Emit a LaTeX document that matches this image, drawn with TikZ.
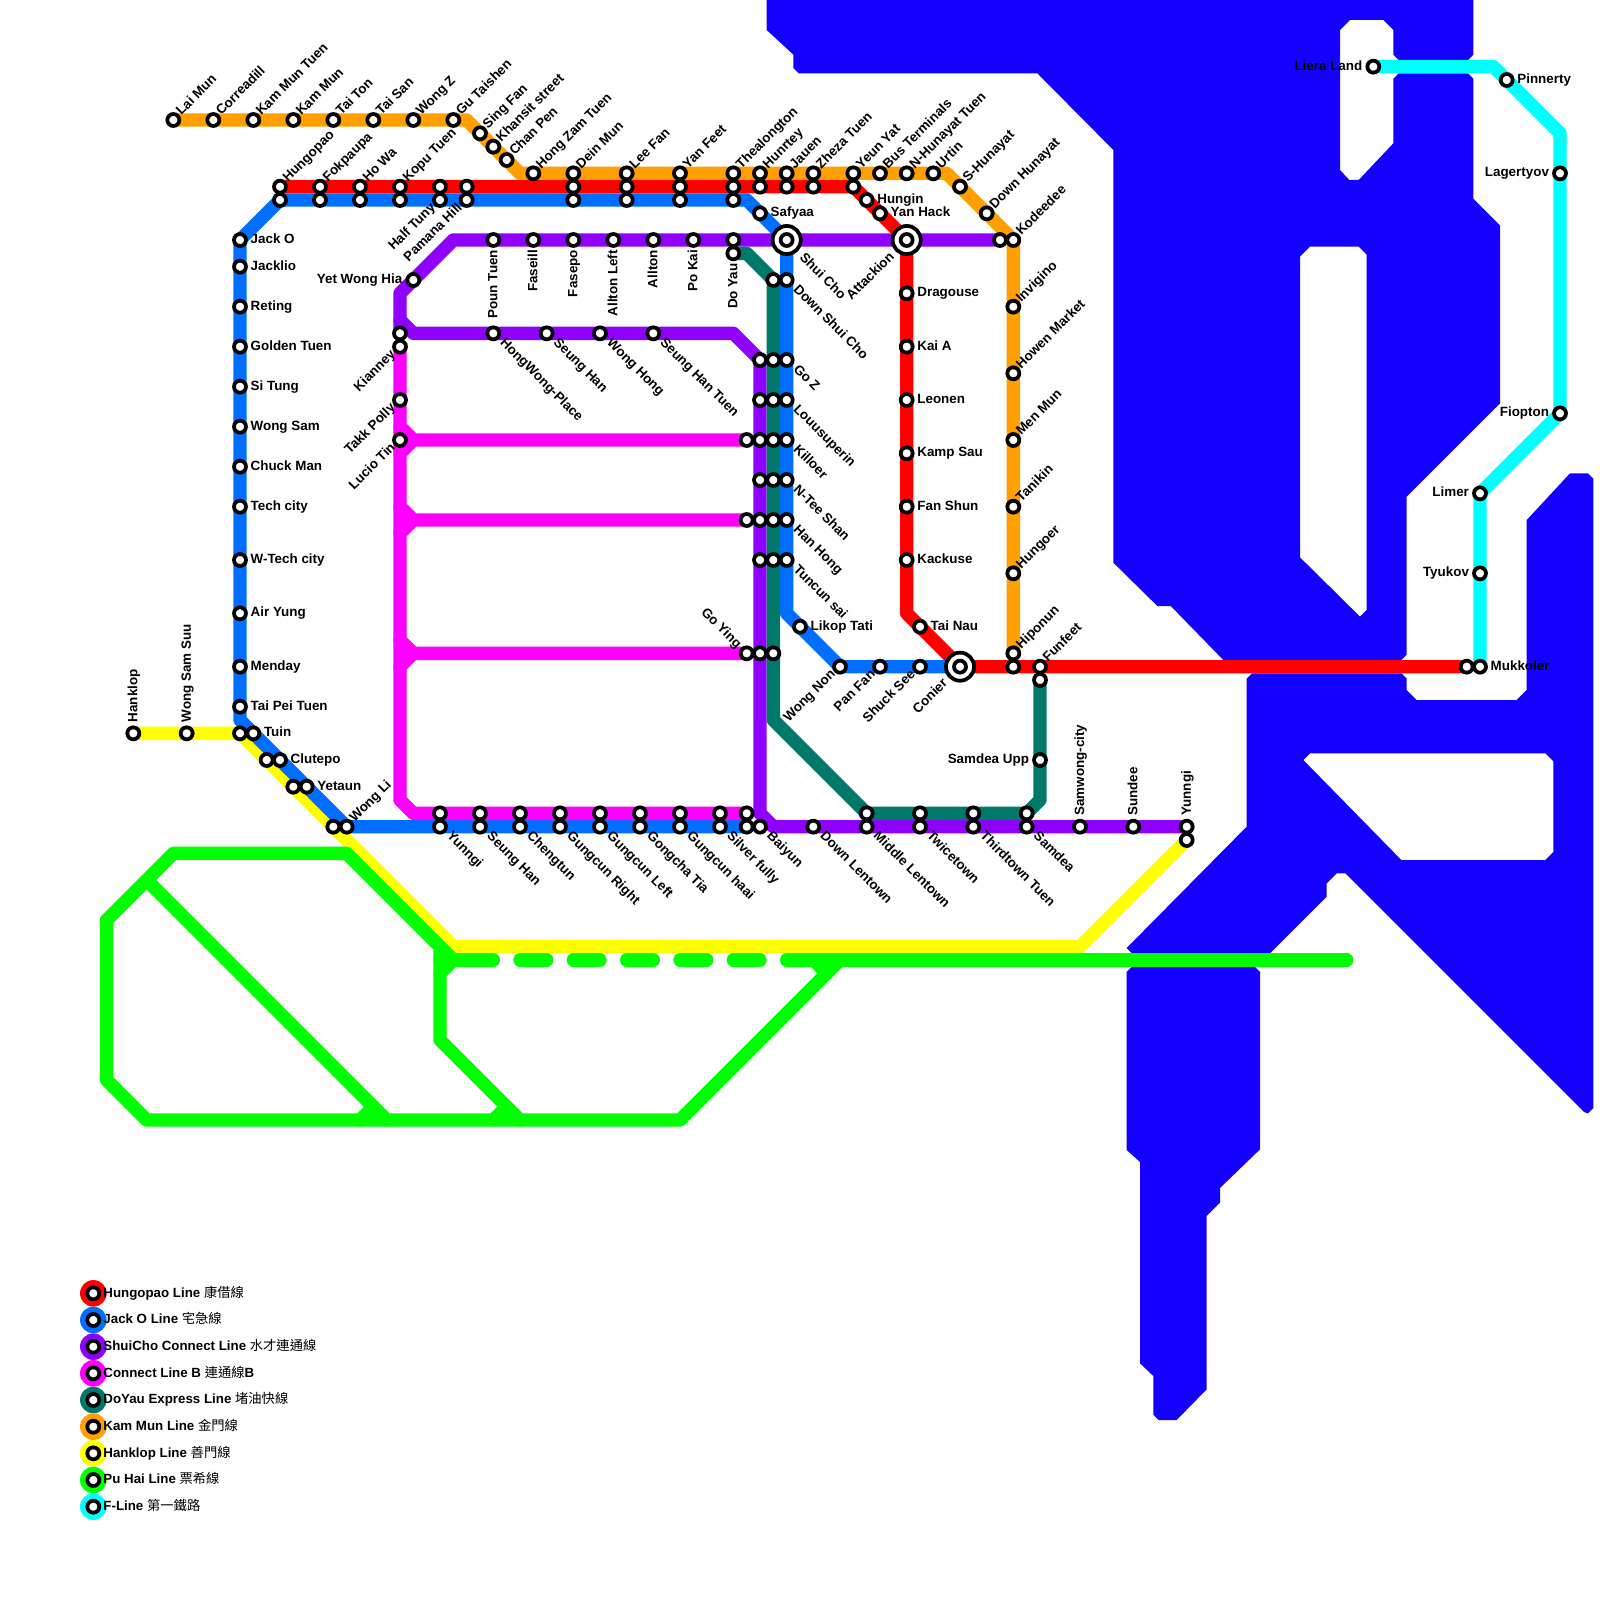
\documentclass[tikz,border=0pt]{standalone}
\usepackage{fontspec}
\setmainfont{Liberation Sans}
\newfontfamily\cjk{Noto Sans CJK TC}
\pgfdeclarelayer{water}
\pgfdeclarelayer{lines}
\pgfsetlayers{water,lines,main}
\definecolor{cRed}{RGB}{255,0,0}
\definecolor{cBlue}{RGB}{0,111,255}
\definecolor{cPurple}{RGB}{143,0,255}
\definecolor{cMag}{RGB}{255,0,255}
\definecolor{cTeal}{RGB}{0,121,107}
\definecolor{cOrange}{RGB}{255,160,0}
\definecolor{cYellow}{RGB}{255,255,0}
\definecolor{cGreen}{RGB}{0,255,0}
\definecolor{cCyan}{RGB}{0,255,255}
\definecolor{cWater}{RGB}{20,0,255}
\tikzset{
  x=0.25cm,y=-0.25cm,
  stn/.style={circle,draw=black,fill=white,line width=2pt,minimum size=6.4pt,inner sep=0pt},
  hub/.style={circle,draw=black,fill=white,line width=2pt,minimum size=15pt,inner sep=0pt},
  metro/.style={line width=0.25cm,line cap=round,line join=round},
  lab/.style={inner sep=0pt,font=\fontsize{7.15}{9}\selectfont\bfseries},
  lNE/.style={lab,anchor=base west,xshift=4.2pt,yshift=2pt,rotate=45},
  lSE/.style={lab,anchor=base west,xshift=3.2pt,yshift=-5.3pt,rotate=-45},
  lE/.style={lab,anchor=base west,xshift=5.5pt,yshift=-1.9pt},
  lW/.style={lab,anchor=base east,xshift=-5.7pt,yshift=-1.9pt},
  lSW/.style={lab,anchor=base east,xshift=-2pt,yshift=-4.4pt,rotate=45},
  lNW/.style={lab,anchor=base east,xshift=-5.3pt,yshift=2.1pt,rotate=-45},
  lUp/.style={lab,anchor=base west,xshift=2.2pt,yshift=5.7pt,rotate=90},
  lDn/.style={lab,anchor=base east,xshift=2.2pt,yshift=-5.2pt,rotate=90},
  lHubSE/.style={lab,anchor=base west,xshift=6.5pt,yshift=-9.7pt,rotate=-45},
  lHubSW/.style={lab,anchor=base east,xshift=-6.2pt,yshift=-9.2pt,rotate=45},
  legdot/.style={circle,minimum size=14.2pt,inner sep=0pt},
  legtext/.style={inner sep=0pt,anchor=base west,font=\fontsize{7.1}{9}\selectfont\bfseries,xshift=5.2pt,yshift=-1.95pt},
}
\newcommand\stp[2]{\node[stn](n#1x#2) at (#1,#2){};}
\newcommand\stl[4]{\stp{#1}{#2}\node[#3](l#1x#2) at (#1,#2){#4};}
\newcommand\legitem[5]{%
  \node[legdot,fill=#2](leg#1) at (7,#3){};
  \node[stn](legs#1) at (7,#3){};
  \node[legtext](legt#1) at (7,#3){#4 {\cjk\mdseries #5}};}
\begin{document}
\begin{tikzpicture}
\useasboundingbox (0,0) rectangle (120,120);
\begin{pgfonlayer}{water}
\fill[cWater,even odd rule]
 (57.5,0)--(57.5,2.25)--(59.5,4.1)--(59.5,5.1)--(59.9,5.5)--(77.8,5.5)--(83.5,11.25)--(83.5,42.2)--(86.8,45.45)--(87.8,45.45)--(91.75,49.5)--(105.1,49.5)--(105.5,49.1)--(105.5,37.25)--(112.5,30.25)--(112.5,16.9)--(110.5,14.9)--(110.5,5.9)--(110.1,5.5)--(104.9,5.5)--(104.5,5.9)--(104.5,10.75)--(101.9,13.5)--(101.2,13.5)--(100.5,12.75)--(100.5,2.25)--(101.25,1.5)--(103.75,1.5)--(104.5,2.25)--(104.5,4.1)--(104.9,4.5)--(110.1,4.5)--(110.5,4.1)--(110.5,0)--cycle
 (97.5,19.25)--(98.25,18.5)--(101.9,18.5)--(102.5,19.1)--(102.5,45.75)--(102,46.25)--(97.5,41.8)--cycle
 (93.9,50.5)--(105.1,50.5)--(105.5,50.9)--(105.5,51.75)--(106.25,52.5)--(113.75,52.5)--(114.5,51.75)--(114.5,39)--(117.75,35.5)--(119.1,35.5)--(119.5,35.9)--(119.5,83.1)--(119.1,83.5)--(118.8,83.4)--(100.9,65.5)--(100.25,65.5)--(99.5,66.25)--(99.5,67.25)--(95.25,71.5)--(84.9,71.5)--(84.5,71.1)--(93.5,62)--(93.5,50.9)--cycle
 (97.75,57)--(98.25,56.5)--(115.9,56.5)--(116.5,57.1)--(116.5,63.9)--(115.9,64.5)--(105.1,64.5)--cycle
 (84.9,72.5)--(94.1,72.5)--(94.5,72.9)--(94.5,86.2)--(91.5,89.1)--(91.5,90.2)--(90.5,91.2)--(90.5,104.2)--(88.25,106.5)--(86.9,106.5)--(86.5,106.1)--(86.5,103.2)--(85.5,102.25)--(85.5,87.15)--(84.5,86.25)--(84.5,72.9)--cycle;
\end{pgfonlayer}
% hubs
\node[hub](hubA) at (59,18){};
\node[hub](hubB) at (68,18){};
\node[hub](hubC) at (72,50){};
% Kam Mun
\stl{13}{9}{lNE}{Lai Mun}\stl{16}{9}{lNE}{Correadill}\stl{19}{9}{lNE}{Kam Mun Tuen}\stl{22}{9}{lNE}{Kam Mun}
\stl{25}{9}{lNE}{Tai Ton}\stl{28}{9}{lNE}{Tai San}\stl{31}{9}{lNE}{Wong Z}\stl{34}{9}{lNE}{Gu Taishen}
\stl{36}{10}{lNE}{Sing Fan}\stl{37}{11}{lNE}{Khansit street}\stl{38}{12}{lNE}{Chan Pen}\stl{40}{13}{lNE}{Hong Zam Tuen}
\stl{43}{13}{lNE}{Dein Mun}\stl{47}{13}{lNE}{Lee Fan}\stl{51}{13}{lNE}{Yan Feet}\stl{55}{13}{lNE}{Thealongton}
\stl{57}{13}{lNE}{Hunrtey}\stl{59}{13}{lNE}{Jauen}\stl{61}{13}{lNE}{Zheza Tuen}\stl{64}{13}{lNE}{Yeun Yat}
\stl{66}{13}{lNE}{Bus Terminals}\stl{68}{13}{lNE}{N-Hunayat Tuen}\stl{70}{13}{lNE}{Urtin}\stl{72}{14}{lNE}{S-Hunayat}
\stl{74}{16}{lNE}{Down Hunayat}\stl{76}{18}{lNE}{Kodeedee}\stl{76}{23}{lNE}{Invigino}\stl{76}{28}{lNE}{Howen Market}
\stl{76}{33}{lNE}{Men Mun}\stl{76}{38}{lNE}{Tanikin}\stl{76}{43}{lNE}{Hungoer}\stl{76}{49}{lNE}{Hiponun}
% Hungopao
\stl{21}{14}{lNE}{Hungopao}\stl{24}{14}{lNE}{Fokpaupa}\stl{27}{14}{lNE}{Ho Wa}\stl{30}{14}{lNE}{Kopu Tuen}
\stp{33}{14}\stp{35}{14}\stp{43}{14}\stp{47}{14}\stp{51}{14}\stp{55}{14}\stp{57}{14}\stp{59}{14}\stp{61}{14}\stp{64}{14}
\stl{65}{15}{lE}{Hungin}\stl{66}{16}{lE}{Yan Hack}\stp{68}{18}
\stl{68}{22}{lE}{Dragouse}\stl{68}{26}{lE}{Kai A}\stl{68}{30}{lE}{Leonen}\stl{68}{34}{lE}{Kamp Sau}
\stl{68}{38}{lE}{Fan Shun}\stl{68}{42}{lE}{Kackuse}\stl{69}{47}{lE}{Tai Nau}\stp{72}{50}\stp{76}{50}
\stl{78}{50}{lNE}{Funfeet}\stp{110}{50}
% Jack O
\stp{21}{15}\stp{24}{15}\stp{27}{15}\stp{30}{15}\stl{33}{15}{lSW}{Half Tuny}\stl{35}{15}{lSW}{Pamana Hill}
\stp{43}{15}\stp{47}{15}\stp{51}{15}\stp{55}{15}\stl{57}{16}{lE}{Safyaa}
\stp{59}{18}\stl{59}{21}{lSE}{Down Shui Cho}\stl{59}{27}{lSE}{Go Z}\stl{59}{30}{lSE}{Louusuperin}
\stl{59}{33}{lSE}{Killoer}\stl{59}{36}{lSE}{N-Tee Shan}\stl{59}{39}{lSE}{Han Hong}\stl{59}{42}{lSE}{Tuncun sai}
\stl{60}{47}{lE}{Likop Tati}\stl{63}{50}{lSW}{Wong Non}\stl{66}{50}{lSW}{Pan Fan}\stl{69}{50}{lSW}{Shuck See}
\stl{18}{18}{lE}{Jack O}\stl{18}{20}{lE}{Jacklio}\stl{18}{23}{lE}{Reting}\stl{18}{26}{lE}{Golden Tuen}
\stl{18}{29}{lE}{Si Tung}\stl{18}{32}{lE}{Wong Sam}\stl{18}{35}{lE}{Chuck Man}\stl{18}{38}{lE}{Tech city}
\stl{18}{42}{lE}{W-Tech city}\stl{18}{46}{lE}{Air Yung}\stl{18}{50}{lE}{Menday}\stl{18}{53}{lE}{Tai Pei Tuen}
\stl{19}{55}{lE}{Tuin}\stl{21}{57}{lE}{Clutepo}\stl{23}{59}{lE}{Yetaun}\stl{26}{62}{lNE}{Wong Li}
\stl{33}{62}{lSE}{Yunngi}\stl{36}{62}{lSE}{Seung Han}\stl{39}{62}{lSE}{Chengtun}\stl{42}{62}{lSE}{Gungcun Right}
\stl{45}{62}{lSE}{Gungcun Left}\stl{48}{62}{lSE}{Gongcha Tia}\stl{51}{62}{lSE}{Gungcun haai}\stl{54}{62}{lSE}{Silver fully}\stp{56}{62}
% Hanklop
\stl{10}{55}{lUp}{Hanklop}\stl{14}{55}{lUp}{Wong Sam Suu}\stp{18}{55}\stp{20}{57}\stp{22}{59}\stp{25}{62}\stp{89}{63}
% ShuiCho Connect
\stl{31}{21}{lW}{Yet Wong Hia}\stl{37}{18}{lDn}{Poun Tuen}\stl{40}{18}{lDn}{Faseill}\stl{43}{18}{lDn}{Fasepo}
\stl{46}{18}{lDn}{Allton Left}\stl{49}{18}{lDn}{Allton}\stl{52}{18}{lDn}{Po Kai}\stp{55}{18}\stp{75}{18}
\stp{30}{25}\stl{37}{25}{lSE}{HongWong-Place}\stl{41}{25}{lSE}{Seung Han}\stl{45}{25}{lSE}{Wong Hong}\stl{49}{25}{lSE}{Seung Han Tuen}
\stp{57}{27}\stp{57}{30}\stp{57}{33}\stp{57}{36}\stp{57}{39}\stp{57}{42}\stp{57}{49}
\stl{57}{62}{lSE}{Baiyun}\stl{61}{62}{lSE}{Down Lentown}\stl{65}{62}{lSE}{Middle Lentown}\stl{69}{62}{lSE}{Twicetown}
\stl{73}{62}{lSE}{Thirdtown Tuen}\stl{77}{62}{lSE}{Samdea}\stl{81}{62}{lUp}{Samwong-city}\stl{85}{62}{lUp}{Sundee}\stl{89}{62}{lUp}{Yunngi}
% Connect B
\stl{30}{26}{lSW}{Kianney}\stl{30}{30}{lSW}{Takk Polly}\stl{30}{33}{lSW}{Lucio Tin}
\stp{56}{33}\stp{56}{39}\stl{56}{49}{lNW}{Go Ying}
\stp{33}{61}\stp{36}{61}\stp{39}{61}\stp{42}{61}\stp{45}{61}\stp{48}{61}\stp{51}{61}\stp{54}{61}\stp{56}{61}
% DoYau
\stl{55}{19}{lDn}{Do Yau}\stp{58}{21}\stp{58}{27}\stp{58}{30}\stp{58}{33}\stp{58}{36}\stp{58}{39}\stp{58}{42}\stp{58}{49}
\stp{65}{61}\stp{69}{61}\stp{73}{61}\stp{77}{61}\stl{78}{57}{lW}{Samdea Upp}\stp{78}{51}
% F-Line
\stl{103}{5}{lW}{Liera Land}\stl{113}{6}{lE}{Pinnerty}\stl{117}{13}{lW}{Lagertyov}\stl{117}{31}{lW}{Fiopton}
\stl{111}{37}{lW}{Limer}\stl{111}{43}{lW}{Tyukov}\stl{111}{50}{lE}{Mukkoler}
% hub labels
\node[lHubSE](lHubA) at (hubA){Shui Cho};
\node[lHubSW](lHubB) at (hubB){Attackion};
\node[lHubSW](lHubC) at (hubC){Conier};
% corners
\coordinate (oA) at (35,9);\coordinate (oB) at (39,13);\coordinate (oC) at (71,13);
\coordinate (rA) at (68,46);
\coordinate (bA) at (18,54);\coordinate (bB) at (56,15);\coordinate (bC) at (59,46);
\coordinate (pA) at (34,18);\coordinate (pB) at (30,22);\coordinate (pC) at (30,24);\coordinate (pD) at (31,25);
\coordinate (pE) at (55,25);\coordinate (pF) at (57,61);\coordinate (pG) at (58,62);
\coordinate (mA) at (30,60);\coordinate (mB) at (31,61);
\coordinate (mC) at (30,32);\coordinate (mD) at (31,33);\coordinate (mE) at (30,34);
\coordinate (mF) at (30,38);\coordinate (mG) at (31,39);\coordinate (mH) at (30,40);
\coordinate (mI) at (30,48);\coordinate (mJ) at (31,49);\coordinate (mK) at (30,50);
\coordinate (tA) at (56,19);\coordinate (tB) at (58,54);\coordinate (tC) at (78,60);
\coordinate (yA) at (34,71);\coordinate (yB) at (81,71);
\coordinate (gA) at (13,64);\coordinate (gB) at (26,64);\coordinate (gC) at (33,71);\coordinate (gD) at (33,78);
\coordinate (gE) at (39,84);\coordinate (gF) at (8,69);\coordinate (gG) at (8,81);\coordinate (gH) at (11,84);
\coordinate (gI) at (51,84);\coordinate (gJ) at (63,72);\coordinate (gK) at (11,66);\coordinate (gL) at (29,84);
\coordinate (gM) at (27,84);\coordinate (gN) at (28,83);\coordinate (gO) at (37,84);\coordinate (gP) at (38,83);
\coordinate (gQ) at (33,73);\coordinate (gR) at (34,72);\coordinate (gS) at (61,72);\coordinate (gT) at (62,73);
\coordinate (gU) at (33,72);\coordinate (gV) at (37,72);\coordinate (gW) at (39,72);\coordinate (gX) at (59,72);\coordinate (gY) at (101,72);
\coordinate (cA) at (112,5);\coordinate (cB) at (117,10);
\begin{pgfonlayer}{lines}
\draw[metro,cYellow] (n10x55.center)--(n18x55.center)--(yA)--(yB)--(n89x63.center);
\draw[metro,cRed] (n21x14.center)--(n64x14.center)--(hubB.center)--(rA)--(hubC.center)--(n110x50.center);
\draw[metro,cBlue] (n56x62.center)--(n26x62.center)--(bA)--(n18x18.center)--(n21x15.center)--(bB)--(hubA.center)--(bC)--(n63x50.center)--(hubC.center);
\draw[metro,cMag] (n30x26.center)--(mA)--(mB)--(n56x61.center);
\draw[metro,cMag] (mC)--(mD)--(n56x33.center) (mD)--(mE);
\draw[metro,cMag] (mF)--(mG)--(n56x39.center) (mG)--(mH);
\draw[metro,cMag] (mI)--(mJ)--(n56x49.center) (mJ)--(mK);
\draw[metro,cPurple] (n75x18.center)--(pA)--(pB)--(n30x25.center);
\draw[metro,cPurple] (pC)--(pD)--(pE)--(n57x27.center)--(pF)--(pG)--(n89x62.center);
\draw[metro,cTeal] (n55x19.center)--(tA)--(n58x21.center)--(tB)--(n65x61.center)--(n77x61.center)--(tC)--(n78x51.center);
\draw[metro,cOrange] (n13x9.center)--(oA)--(oB)--(oC)--(n76x18.center)--(n76x49.center);
\draw[metro,cGreen] (gF)--(gA)--(gB)--(gC)--(gD)--(gE);
\draw[metro,cGreen] (gC)--(gR)--(gQ);
\draw[metro,cGreen] (gF)--(gG)--(gH)--(gI)--(gJ);
\draw[metro,cGreen] (gK)--(gL) (gM)--(gN) (gO)--(gP) (gS)--(gT);
\draw[metro,cGreen] (gU)--(gV) (gX)--(gY);
\draw[metro,cGreen,dash pattern=on 0.5cm off 0.5cm] (gW)--(gX);
\draw[metro,cCyan] (n103x5.center)--(cA)--(cB)--(n117x31.center)--(n111x37.center)--(n111x50.center);
\end{pgfonlayer}
% legend
\legitem{1}{cRed}{97}{Hungopao Line}{康借線}
\legitem{2}{cBlue}{99}{Jack O Line}{宅急線}
\legitem{3}{cPurple}{101}{ShuiCho Connect Line}{水才連通線}
\legitem{4}{cMag}{103}{Connect Line B}{連通線{\rmfamily\bfseries B}}
\legitem{5}{cTeal}{105}{DoYau Express Line}{堵油快線}
\legitem{6}{cOrange}{107}{Kam Mun Line}{金門線}
\legitem{7}{cYellow}{109}{Hanklop Line}{善門線}
\legitem{8}{cGreen}{111}{Pu Hai Line}{票希線}
\legitem{9}{cCyan}{113}{F-Line}{第一鐵路}
\end{tikzpicture}
\end{document}
